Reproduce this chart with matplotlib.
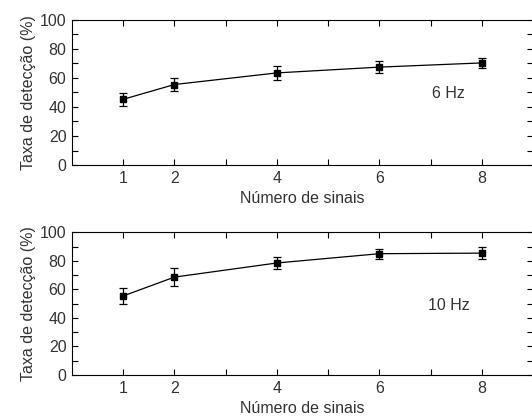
import matplotlib
matplotlib.use("Agg")
import matplotlib.pyplot as plt
import numpy as np

plt.rcParams["font.family"] = ["Liberation Sans", "DejaVu Sans"]

# ── data ─────────────────────────────────────────────────────────────────────
n_sinais = [1, 2, 4, 6, 8]

taxa_6hz = [45.3, 55.5, 63.5, 67.5, 70.4]
err_6hz = [4.5, 4.8, 4.8, 4.4, 3.7]

taxa_10hz = [55.4, 68.6, 78.5, 85.0, 85.4]
err_10hz = [5.9, 6.3, 4.5, 3.5, 4.3]

panels = [
    ("6 Hz", taxa_6hz, err_6hz),
    ("10 Hz", taxa_10hz, err_10hz),
]

xtick_labels = ["1", "2", "4", "6", "8"]
ytick_major = [0, 20, 40, 60, 80, 100]

# ── figure ───────────────────────────────────────────────────────────────────
fig = plt.figure(figsize=(5.32, 4.19), dpi=100)
axes_pos = [
    [0.1353, 0.6062, 0.8665, 0.3461],
    [0.1353, 0.1050, 0.8665, 0.3406],
]

txt_col = "#333333"
fs = 11.5

for pos, (label, vals, errs) in zip(axes_pos, panels):
    ax = fig.add_axes(pos)
    ax.errorbar(n_sinais, vals, yerr=errs, color="black", lw=0.9,
                marker="s", ms=5, capsize=3.2, elinewidth=0.9,
                capthick=0.9)
    ax.set_xlim(0, 9)
    ax.set_ylim(0, 100)

    ax.set_xticks(n_sinais)
    ax.set_xticklabels(xtick_labels)
    ax.set_xticks([3, 5, 7], minor=True)
    ax.set_yticks(ytick_major)
    ax.set_yticks(np.arange(10, 100, 20), minor=True)

    ax.tick_params(which="both", direction="in", top=True, right=True,
                   length=4, width=0.8, labelsize=fs, labelcolor=txt_col,
                   pad=4)
    ax.spines["right"].set_visible(False)
    for side in ("left", "bottom", "top"):
        ax.spines[side].set_linewidth(0.8)

    ax.set_xlabel("Número de sinais", fontsize=fs, color=txt_col, labelpad=4)
    ax.set_ylabel("Taxa de detecção (%)", fontsize=fs, color=txt_col,
                  labelpad=3)
    ax.text(7.35, 49, label, fontsize=fs, color=txt_col,
            ha="center", va="center")

fig.savefig("out.png", dpi=100)
